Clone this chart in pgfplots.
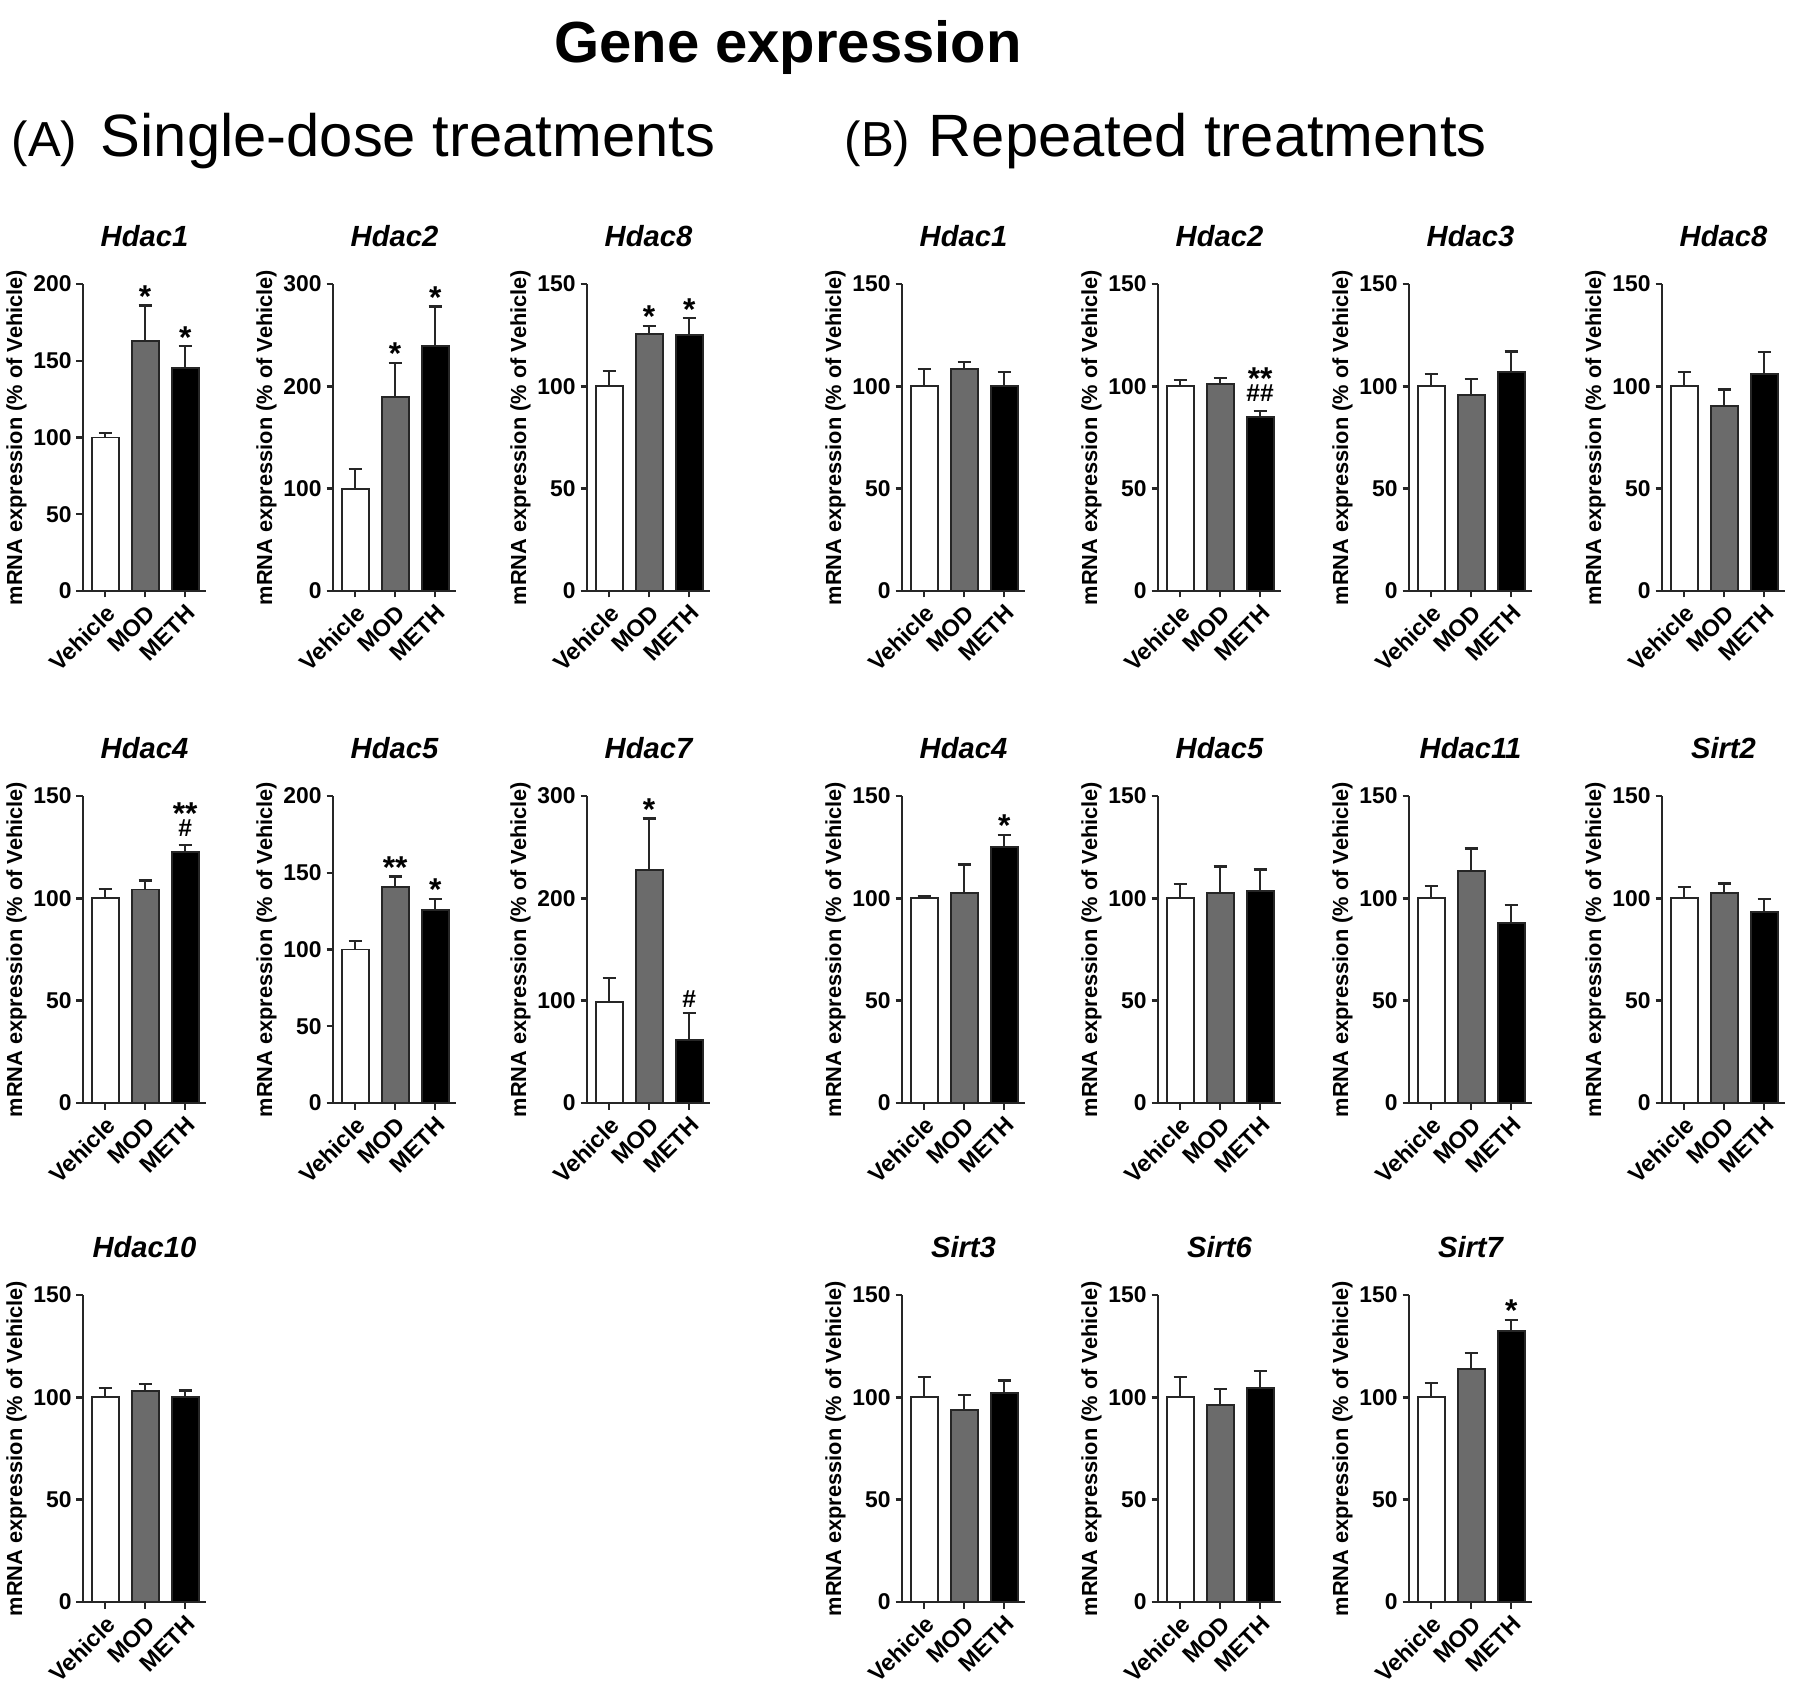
\documentclass[border=0pt]{standalone}
\usepackage{fontspec}
\setmainfont{Liberation Sans}
\usepackage{pgfplots}
\pgfplotsset{compat=1.18}
\definecolor{modgray}{gray}{0.42}
\definecolor{edge}{gray}{0.15}
\pgfplotsset{
  panel/.style={
    scale only axis, width=1.23cm, height=3.07cm, anchor=south west,
    xmin=-0.55, xmax=2.52, ymin=0,
    axis x line*=bottom, axis y line*=left,
    axis line style={line width=0.7pt, edge},
    every tick/.style={line width=0.7pt, edge},
    tick align=outside, major tick length=0.065cm,
    xtick={0,1,2}, xticklabels={Vehicle,MOD,METH},
    xticklabel style={rotate=45, anchor=north east, inner sep=1pt, font=\bfseries\fontsize{6.7}{7}\selectfont},
    yticklabel style={inner sep=1.2pt, font=\bfseries\fontsize{6.5}{7}\selectfont},
    /pgf/number format/assume math mode=true,
    ylabel={mRNA expression (\% of Vehicle)},
    ylabel style={at={(axis description cs:-0.54,0.5)}, anchor=center, font=\bfseries\fontsize{6.2}{7}\selectfont},
    title style={at={(axis description cs:0.5,1)}, anchor=base, yshift=0.16cm, font=\bfseries\itshape\fontsize{8.3}{9}\selectfont},
    clip=false,
  },
  y150/.style={ymax=150, ytick={0,50,100,150}},
  y200/.style={ymax=200, ytick={0,50,100,150,200}},
  y300/.style={ymax=300, ytick={0,100,200,300}},
  ebar/.style={ybar, bar shift=0pt, bar width=0.27cm, draw=edge, line width=0.55pt,
    error bars/y dir=plus, error bars/y explicit,
    error bars/error bar style={line width=0.65pt, edge},
    error bars/error mark options={rotate=90, line width=0.65pt, edge, mark size=0.065cm}},
  vbar/.style={ebar, fill=white},
  mbar/.style={ebar, fill=modgray},
  kbar/.style={ebar, fill=black},
}
\tikzset{
  star/.style={anchor=base, inner sep=0pt, yshift=-0.02cm, font=\bfseries\fontsize{9}{9}\selectfont},
  hash/.style={anchor=base, inner sep=0pt, yshift=0.05cm, font=\bfseries\fontsize{7}{7}\selectfont},
  hashlow/.style={anchor=base, inner sep=0pt, yshift=0.09cm, font=\bfseries\fontsize{7}{7}\selectfont},
  starhigh/.style={anchor=base, inner sep=0pt, yshift=0.21cm, font=\bfseries\fontsize{9}{9}\selectfont},
}
\begin{document}
\begin{tikzpicture}
\path[use as bounding box, fill=white] (0,0) rectangle (18cm,-16.92cm);
\node[anchor=base, font=\bfseries\fontsize{16.5}{18}\selectfont] at (7.88cm,-0.63cm) {Gene expression};
\node[anchor=base west, inner sep=0pt, font=\fontsize{14}{16}\selectfont] at (0.11cm,-1.57cm) {(A)};
\node[anchor=base west, inner sep=0pt, font=\fontsize{17}{19}\selectfont] at (1.00cm,-1.57cm) {Single-dose treatments};
\node[anchor=base west, inner sep=0pt, font=\fontsize{14}{16}\selectfont] at (8.44cm,-1.57cm) {(B)};
\node[anchor=base west, inner sep=0pt, font=\fontsize{17}{19}\selectfont] at (9.28cm,-1.57cm) {Repeated treatments};

% ===== (A) row 1 =====
\begin{axis}[panel, y200, at={(0.83cm,-5.91cm)}, title={Hdac1}]
\addplot[vbar] coordinates {(0,100) +- (0,3)};
\addplot[mbar] coordinates {(1,163) +- (0,23)};
\addplot[kbar] coordinates {(2,145) +- (0,14.5)};
\node[star] at (axis cs:1,186) {*};
\node[star] at (axis cs:2,159.5) {*};
\end{axis}
\begin{axis}[panel, y300, at={(3.33cm,-5.91cm)}, title={Hdac2}]
\addplot[vbar] coordinates {(0,100) +- (0,19)};
\addplot[mbar] coordinates {(1,190) +- (0,33)};
\addplot[kbar] coordinates {(2,239) +- (0,39)};
\node[star] at (axis cs:1,223) {*};
\node[star] at (axis cs:2,278) {*};
\end{axis}
\begin{axis}[panel, y150, at={(5.87cm,-5.91cm)}, title={Hdac8}]
\addplot[vbar] coordinates {(0,100) +- (0,7.5)};
\addplot[mbar] coordinates {(1,125.6) +- (0,4)};
\addplot[kbar] coordinates {(2,125.3) +- (0,8)};
\node[star] at (axis cs:1,129.6) {*};
\node[star] at (axis cs:2,133.3) {*};
\end{axis}

% ===== (A) row 2 =====
\begin{axis}[panel, y150, at={(0.83cm,-11.03cm)}, title={Hdac4}]
\addplot[vbar] coordinates {(0,100) +- (0,4.5)};
\addplot[mbar] coordinates {(1,104.3) +- (0,4.4)};
\addplot[kbar] coordinates {(2,122.7) +- (0,3.3)};
\node[hashlow] at (axis cs:2,126) {\#};
\node[starhigh] at (axis cs:2,126) {**};
\end{axis}
\begin{axis}[panel, y200, at={(3.33cm,-11.03cm)}, title={Hdac5}]
\addplot[vbar] coordinates {(0,100) +- (0,5.5)};
\addplot[mbar] coordinates {(1,140.5) +- (0,7)};
\addplot[kbar] coordinates {(2,126) +- (0,7)};
\node[star] at (axis cs:1,147.5) {**};
\node[star] at (axis cs:2,133) {*};
\end{axis}
\begin{axis}[panel, y300, at={(5.87cm,-11.03cm)}, title={Hdac7}]
\addplot[vbar] coordinates {(0,98.5) +- (0,24)};
\addplot[mbar] coordinates {(1,228) +- (0,50)};
\addplot[kbar] coordinates {(2,62) +- (0,26)};
\node[star] at (axis cs:1,278) {*};
\node[hash] at (axis cs:2,88) {\#};
\end{axis}

% ===== (A) row 3 =====
\begin{axis}[panel, y150, at={(0.83cm,-16.02cm)}, title={Hdac10}]
\addplot[vbar] coordinates {(0,100) +- (0,4.5)};
\addplot[mbar] coordinates {(1,103) +- (0,3.5)};
\addplot[kbar] coordinates {(2,100.3) +- (0,3)};
\end{axis}

% ===== (B) row 1 =====
\begin{axis}[panel, y150, at={(9.02cm,-5.91cm)}, title={Hdac1}]
\addplot[vbar] coordinates {(0,100) +- (0,8.5)};
\addplot[mbar] coordinates {(1,108.6) +- (0,3.2)};
\addplot[kbar] coordinates {(2,100) +- (0,7)};
\end{axis}
\begin{axis}[panel, y150, at={(11.58cm,-5.91cm)}, title={Hdac2}]
\addplot[vbar] coordinates {(0,100) +- (0,3)};
\addplot[mbar] coordinates {(1,101) +- (0,3)};
\addplot[kbar] coordinates {(2,85) +- (0,3)};
\node[hashlow] at (axis cs:2,88) {\#\#};
\node[starhigh] at (axis cs:2,88) {**};
\end{axis}
\begin{axis}[panel, y150, at={(14.09cm,-5.91cm)}, title={Hdac3}]
\addplot[vbar] coordinates {(0,100) +- (0,6)};
\addplot[mbar] coordinates {(1,95.6) +- (0,8)};
\addplot[kbar] coordinates {(2,107) +- (0,10)};
\end{axis}
\begin{axis}[panel, y150, at={(16.62cm,-5.91cm)}, title={Hdac8}]
\addplot[vbar] coordinates {(0,100) +- (0,7)};
\addplot[mbar] coordinates {(1,90.4) +- (0,8)};
\addplot[kbar] coordinates {(2,105.8) +- (0,11)};
\end{axis}

% ===== (B) row 2 =====
\begin{axis}[panel, y150, at={(9.02cm,-11.03cm)}, title={Hdac4}]
\addplot[vbar] coordinates {(0,100) +- (0,1.2)};
\addplot[mbar] coordinates {(1,102.5) +- (0,14)};
\addplot[kbar] coordinates {(2,125.3) +- (0,5.7)};
\node[star] at (axis cs:2,131) {*};
\end{axis}
\begin{axis}[panel, y150, at={(11.58cm,-11.03cm)}, title={Hdac5}]
\addplot[vbar] coordinates {(0,100) +- (0,7)};
\addplot[mbar] coordinates {(1,102.5) +- (0,13)};
\addplot[kbar] coordinates {(2,103.6) +- (0,10.5)};
\end{axis}
\begin{axis}[panel, y150, at={(14.09cm,-11.03cm)}, title={Hdac11}]
\addplot[vbar] coordinates {(0,100) +- (0,6)};
\addplot[mbar] coordinates {(1,113.4) +- (0,11)};
\addplot[kbar] coordinates {(2,87.8) +- (0,9)};
\end{axis}
\begin{axis}[panel, y150, at={(16.62cm,-11.03cm)}, title={Sirt2}]
\addplot[vbar] coordinates {(0,100) +- (0,5.5)};
\addplot[mbar] coordinates {(1,102.8) +- (0,4.5)};
\addplot[kbar] coordinates {(2,93.2) +- (0,6.5)};
\end{axis}

% ===== (B) row 3 =====
\begin{axis}[panel, y150, at={(9.02cm,-16.02cm)}, title={Sirt3}]
\addplot[vbar] coordinates {(0,100) +- (0,10)};
\addplot[mbar] coordinates {(1,94) +- (0,7)};
\addplot[kbar] coordinates {(2,102.2) +- (0,6)};
\end{axis}
\begin{axis}[panel, y150, at={(11.58cm,-16.02cm)}, title={Sirt6}]
\addplot[vbar] coordinates {(0,100) +- (0,10)};
\addplot[mbar] coordinates {(1,96.2) +- (0,7.7)};
\addplot[kbar] coordinates {(2,104.7) +- (0,8)};
\end{axis}
\begin{axis}[panel, y150, at={(14.09cm,-16.02cm)}, title={Sirt7}]
\addplot[vbar] coordinates {(0,100) +- (0,7)};
\addplot[mbar] coordinates {(1,113.8) +- (0,7.7)};
\addplot[kbar] coordinates {(2,132.4) +- (0,5.4)};
\node[star] at (axis cs:2,137.8) {*};
\end{axis}
\end{tikzpicture}
\end{document}
